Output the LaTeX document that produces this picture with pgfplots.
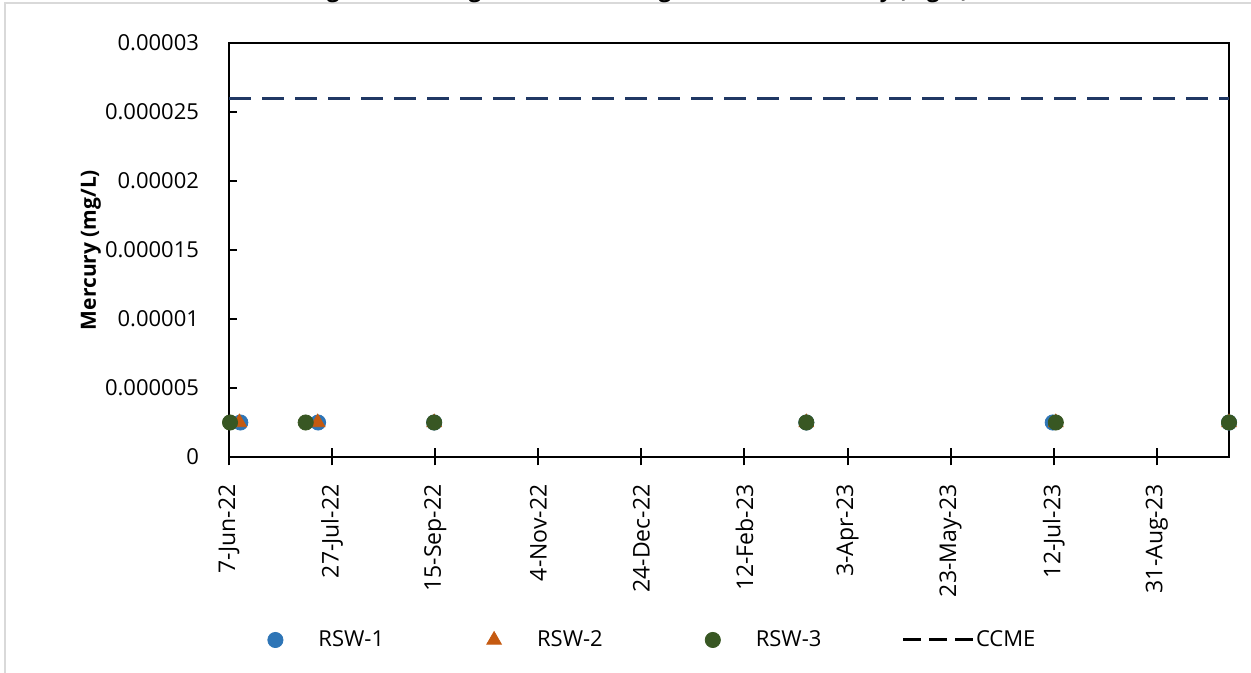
\documentclass[border=0pt]{standalone}
\usepackage{pgfplots}
\pgfplotsset{compat=1.18}
\usepackage{fontspec}
\setmainfont{Open Sans}
\definecolor{rswblue}{HTML}{2E75B6}
\definecolor{rsworange}{HTML}{C55A11}
\definecolor{rswgreen}{HTML}{385723}
\definecolor{ccmenavy}{HTML}{203864}
\definecolor{framegray}{HTML}{D9D9D9}
\newcommand{\fs}{\fontsize{11}{13}\selectfont}
\pgfplotsset{
  markleg/.style={legend image code/.code={%
      \path[draw=none,fill=none] (0pt,-4pt) rectangle (36.5pt,4pt);
      \draw plot coordinates {(15pt,0pt)};}},
  lineleg/.style={legend image code/.code={%
      \path[draw=none,fill=none] (0pt,-4pt) rectangle (36.5pt,4pt);
      \draw[black,line width=1.5pt,dash pattern=on 9pt off 4pt] (0pt,0pt) -- (35pt,0pt);}},
}
\begin{document}
\begin{tikzpicture}
\useasboundingbox (-114.5pt,-108pt) rectangle (511pt,228.5pt);
\begin{axis}[
  at={(0pt,0pt)}, anchor=south west,
  width=500pt, height=207pt, scale only axis,
  xmin=0, xmax=485, ymin=0, ymax=0.00003,
  clip=false,
  axis line style={line width=1pt},
  xtick={0,50,100,150,200,250,300,350,400,450},
  xticklabels={7-Jun-22,27-Jul-22,15-Sep-22,4-Nov-22,24-Dec-22,12-Feb-23,3-Apr-23,23-May-23,12-Jul-23,31-Aug-23},
  ytick={0,0.000005,0.00001,0.000015,0.00002,0.000025,0.00003},
  yticklabels={0,0.000005,0.00001,0.000015,0.00002,0.000025,0.00003},
  scaled y ticks=false,
  xtick align=center, ytick align=inside,
  xtick pos=bottom, ytick pos=left,
  major tick length=8.5pt,
  tick style={line width=1pt, black},
  ytick style={dash pattern=on 4pt off 20pt},
  x tick label style={rotate=90, anchor=east, font=\fontsize{11.5}{13}\selectfont},
  xticklabel shift=6pt,
  y tick label style={font=\fs},
  yticklabel shift=11.5pt,
  ylabel={\textbf{Mercury (mg/L)}},
  every axis y label/.style={at={(axis description cs:-0.138,0.5)}, rotate=90, anchor=center, font=\fontsize{10.5}{12}\selectfont},
  legend columns=4,
  legend cell align=left,
  legend style={at={(0.016,-0.442)}, anchor=west, draw=none, fill=none, inner sep=0pt, font=\fs,
    nodes={inner sep=0pt},
    /tikz/every even column/.append style={column sep=40pt}},
]
\addplot[only marks, color=rswblue, mark=*, mark size=3.8pt, mark options={fill=rswblue}, markleg]
  coordinates {(5.5,0.0000025) (43.2,0.0000025) (99.5,0.0000025) (280,0.0000025) (399.5,0.0000025) (485,0.0000025)};
\addlegendentry{RSW-1}
\addplot[only marks, color=rsworange, mark=triangle*, mark size=4.2pt, mark options={fill=rsworange}, markleg]
  coordinates {(5,0.0000025) (43,0.0000025) (99.5,0.0000025) (280,0.0000025) (401,0.0000025) (485,0.0000025)};
\addlegendentry{RSW-2}
\addplot[only marks, color=rswgreen, mark=*, mark size=3.8pt, mark options={fill=rswgreen}, markleg]
  coordinates {(0.5,0.0000025) (37.2,0.0000025) (99.5,0.0000025) (280,0.0000025) (401,0.0000025) (485,0.0000025)};
\addlegendentry{RSW-3}
\addplot[color=ccmenavy, line width=1.5pt, dash pattern=on 11pt off 5.5pt, lineleg]
  coordinates {(0,0.000026) (485,0.000026)};
\addlegendentry{CCME}
\end{axis}
\draw[framegray, line width=0.75pt] (-112pt,-110pt) -- (-112pt,227pt) -- (515pt,227pt);
\node[anchor=base west, inner sep=0pt, font=\bfseries\fs] at (39.5pt,229.6pt) {Figure 4-5: Long-Term Monitoring Results for Mercury (mg/L)};
\end{tikzpicture}
\end{document}
